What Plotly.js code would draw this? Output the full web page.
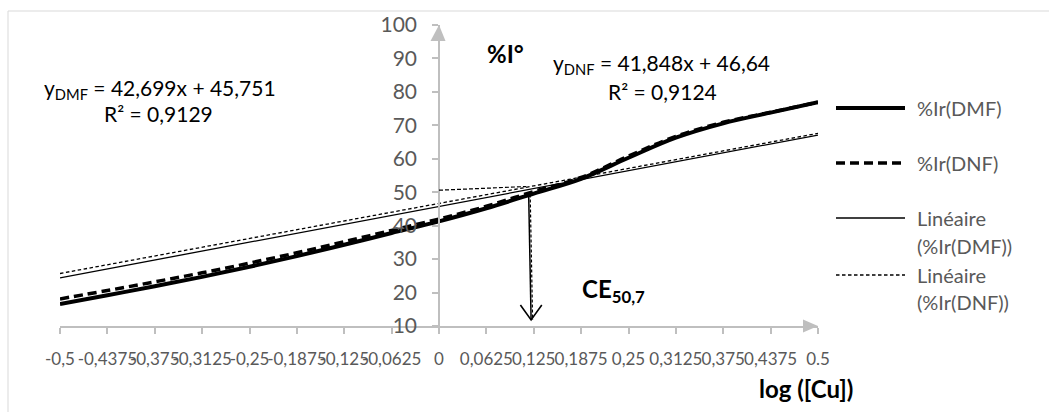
<!DOCTYPE html>
<html>
<head>
<meta charset="utf-8">
<script src="https://cdn.plot.ly/plotly-3.0.1.min.js"></script>
<style>html,body{margin:0;padding:0;background:#fff;}#chart{width:1049px;height:412px;}</style>
</head>
<body>
<div id="chart"></div>
<script>
// ---- data ----
const logCu = [-0.5, -0.4375, -0.375, -0.3125, -0.25, -0.1875, -0.125, -0.0625, 0, 0.0625, 0.125, 0.1875, 0.25, 0.3125, 0.375, 0.4375, 0.5];
const irDMF = [16.6, 19.2, 21.9, 24.7, 27.7, 30.9, 34.3, 37.8, 41.3, 45.2, 49.6, 54.0, 60.3, 66.3, 70.6, 73.8, 76.9];
const irDNF = [18.1, 20.6, 23.2, 25.9, 28.8, 31.9, 35.2, 38.6, 42.0, 45.8, 50.2, 54.4, 60.8, 66.7, 70.9, 73.9, 76.9];
const trendX = [-0.5, 0.5];
const trendDMF = [24.4, 67.1];
const trendDNF = [25.7, 67.6];
const xTickVals = [-0.5, -0.4375, -0.375, -0.3125, -0.25, -0.1875, -0.125, -0.0625, 0, 0.0625, 0.125, 0.1875, 0.25, 0.3125, 0.375, 0.4375, 0.5];
const xTickText = ["-0,5", "-0,4375", "-0,375", "-0,3125", "-0,25", "-0,1875", "-0,125", "-0,0625", "0", "0,0625", "0,125", "0,1875", "0,25", "0,3125", "0,375", "0,4375", "0.5"];
const seriesNames = ["%Ir(DMF)", "%Ir(DNF)", "Linéaire (%Ir(DMF))", "Linéaire (%Ir(DNF))"];

// ---- layout helpers (pixel -> paper) ----
const L = 60, R = 231, T = 25, B = 86, W = 1049, H = 412;
const PW = W - L - R, PH = H - T - B;
const px = v => (v - L) / PW;
const py = v => (H - B - v) / PH;
const FONT = "Lato, sans-serif";
const GRAY = "#595959", AX = "#bfbfbf";

const traces = [
  {x: logCu, y: irDMF, name: seriesNames[0], type: "scatter", mode: "lines",
   line: {color: "#000", width: 4, shape: "spline", smoothing: 1}, showlegend: false},
  {x: logCu, y: irDNF, name: seriesNames[1], type: "scatter", mode: "lines",
   line: {color: "#000", width: 3.5, shape: "spline", smoothing: 1, dash: "9px,5px"}, showlegend: false},
  {x: trendX, y: trendDMF, name: seriesNames[2], type: "scatter", mode: "lines",
   line: {color: "#000", width: 1.3}, showlegend: false},
  {x: trendX, y: trendDNF, name: seriesNames[3], type: "scatter", mode: "lines",
   line: {color: "#000", width: 1.3, dash: "3.5px,2.5px"}, showlegend: false}
];

// custom legend
const legY = [108, 163, 218, 275];
const legDash = ["solid", "9px,5px", "solid", "3.5px,2.5px"];
const legW = [4, 3.5, 1.3, 1.3];
const shapes = [];
legY.forEach((y, i) => {
  shapes.push({type: "line", xref: "paper", yref: "paper", x0: px(836), x1: px(905), y0: py(y), y1: py(y),
    line: {color: "#000", width: legW[i], dash: legDash[i]}});
});
// chart border (left/top)
shapes.push({type: "line", xref: "paper", yref: "paper", x0: px(8), x1: px(8), y0: py(11), y1: py(412), line: {color: "#d9d9d9", width: 1}});
shapes.push({type: "line", xref: "paper", yref: "paper", x0: px(8), x1: px(1049), y0: py(11), y1: py(11), line: {color: "#d9d9d9", width: 1}});
// axis arrowheads
shapes.push({type: "path", xref: "paper", yref: "paper",
  path: `M 0.5,${py(25)} L ${px(438-7.5)},${py(41)} L ${px(438+7.5)},${py(41)} Z`,
  fillcolor: AX, line: {color: AX, width: 0}});
shapes.push({type: "path", xref: "paper", yref: "paper",
  path: `M 1,0 L ${px(803)},${py(326-6.5)} L ${px(803)},${py(326+6.5)} Z`,
  fillcolor: AX, line: {color: AX, width: 0}});
// CE50 construction
shapes.push({type: "line", xref: "x", yref: "y", x0: 0, y0: 50.6, x1: 0.115, y1: 51.7, line: {color: "#000", width: 1.2, dash: "4px,2px"}});
shapes.push({type: "line", xref: "x", yref: "y", x0: 0.1183, y0: 49.3, x1: 0.1215, y1: 11.8, line: {color: "#000", width: 1.5}});
shapes.push({type: "line", xref: "x", yref: "y", x0: 0.1203, y0: 49.3, x1: 0.1235, y1: 11.8, line: {color: "#000", width: 1.2, dash: "3px,2px"}});
shapes.push({type: "path", xref: "x", yref: "y",
  path: `M ${0.1215-0.0141},16.3 L 0.1215,11.8 L ${0.1215+0.0141},16.3`, line: {color: "#000", width: 1.6}});

const ann = [];
const addText = (text, x, y, size, opts) => ann.push(Object.assign({text: text, xref: "paper", yref: "paper", x: px(x), y: py(y),
  showarrow: false, xanchor: "left", yanchor: "middle", font: {family: FONT, size: size, color: GRAY}}, opts || {}));
addText("%Ir(DMF)", 915, 108, 20);
addText("%Ir(DNF)", 915, 163, 20);
addText("Linéaire", 915, 218, 20);
addText("(%Ir(DMF))", 915, 246, 20);
addText("Linéaire", 915, 275, 20);
addText("(%Ir(DNF))", 915, 302, 20);
const black = s => ({family: FONT, size: s, color: "#000"});
addText("y<sub>DMF</sub> = 42,699x + 45,751", 160, 89, 21, {xanchor: "center", font: black(21)});
addText("R² = 0,9129", 158, 113, 21, {xanchor: "center", font: black(21)});
addText("y<sub>DNF</sub> = 41,848x + 46,64", 661, 64, 21, {xanchor: "center", font: black(21)});
addText("R² = 0,9124", 662, 91, 21, {xanchor: "center", font: black(21)});
addText("<b>%I°</b>", 485, 54, 24, {font: black(24)});
addText("<b>log ([Cu])</b>", 757, 388, 24, {font: black(24)});
addText("<b>CE<sub>50,7</sub></b>", 580, 290, 24, {font: black(24)});

const layout = {
  width: W, height: H,
  margin: {l: L, r: R, t: T, b: B},
  paper_bgcolor: "#fff", plot_bgcolor: "#fff",
  font: {family: FONT, color: GRAY},
  showlegend: false,
  xaxis: {range: [-0.5, 0.5], tickmode: "array", tickvals: xTickVals, ticktext: xTickText,
    ticks: "outside", ticklen: 6, tickwidth: 1.5, tickcolor: AX, showline: true, linecolor: AX, linewidth: 1.5,
    showgrid: false, zeroline: false, tickangle: 0, ticklabelstandoff: 11,
    tickfont: {family: FONT, size: 17, color: GRAY}, fixedrange: true},
  xaxis2: {range: [-0.5, 0.5], overlaying: "x", anchor: "y", side: "bottom", tickmode: "array", tickvals: xTickVals,
    ticks: "inside", ticklen: 6, tickwidth: 1.5, tickcolor: AX, showticklabels: false, showline: false,
    showgrid: false, zeroline: false, fixedrange: true},
  yaxis: {range: [10, 100], tick0: 10, dtick: 10, anchor: "free", position: 0.5,
    ticks: "outside", ticklen: 6, tickwidth: 1.5, tickcolor: AX, showline: true, linecolor: AX, linewidth: 1.5,
    showgrid: false, zeroline: false, ticklabelstandoff: 11,
    tickfont: {family: FONT, size: 21, color: GRAY}, fixedrange: true},
  yaxis2: {range: [10, 100], tick0: 10, dtick: 10, overlaying: "y", anchor: "free", position: 0.5, side: "left",
    ticks: "inside", ticklen: 6, tickwidth: 1.5, tickcolor: AX, showticklabels: false, showline: false,
    showgrid: false, zeroline: false, fixedrange: true},
  shapes: shapes,
  annotations: ann
};

Plotly.newPlot("chart", traces, layout, {displayModeBar: false, responsive: false});
</script>
</body>
</html>
